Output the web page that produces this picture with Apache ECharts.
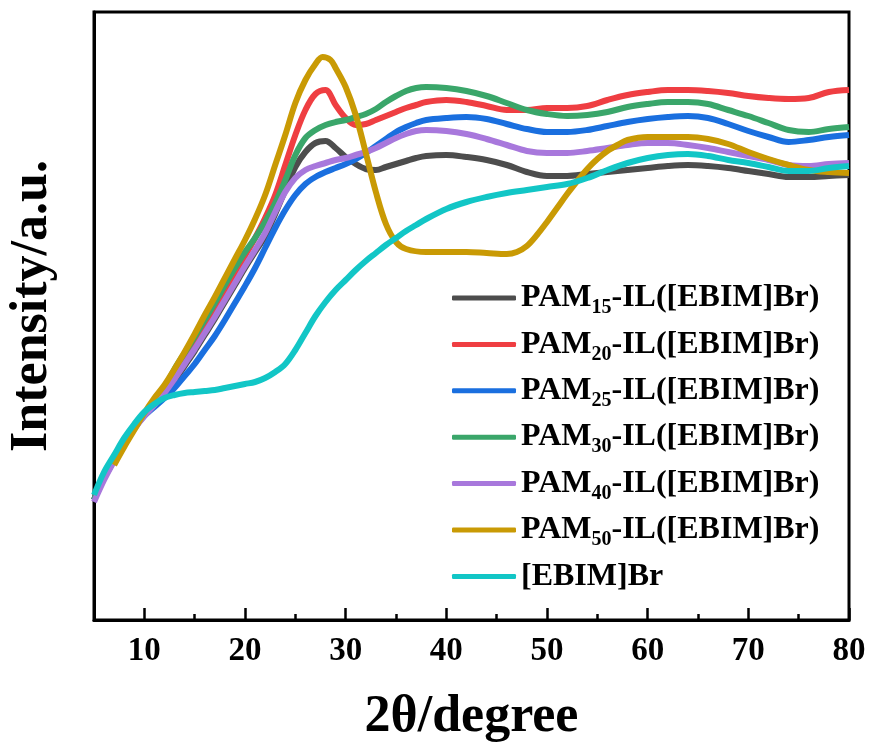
<!DOCTYPE html>
<html>
<head>
<meta charset="utf-8">
<script src="https://cdn.jsdelivr.net/npm/echarts@6/dist/echarts.min.js"></script>
<style>html,body{margin:0;padding:0;background:#fff}#c{width:870px;height:744px}</style>
</head>
<body>
<div id="c"></div>
<script>
// 2θ positions (degree)
var theta = [5,6,7,8,9,10,11,12,13,14,15,16,17,18,19,20,21,22,23,24,25,26,27,28,29,30,31,32,33,34,35,36,37,38,40,42,44,46,48,50,52,54,56,58,60,62,64,66,68,70,72,74,76,78,80];
var thetaGold = [7,8,9,10,11,12,13,14,15,16,17,18,19,20,21,22,23,24,25,26,27,27.7,28.5,29,30,31,32,33,34,35,36,38,40,42,44,46,47,48,49,50,51,52,53,54,55,56,57,58,60,62,64,66,68,70,72,74,76,78,80];

// Intensity (a.u.)
var pam15 = [120,142,160,177,192,205,215,225,239,254,269,285,301,318,335,352,368,384,406,430,453,468,477,479,472,463,456,451,450,453,456,459,462,464,465,463,460,455,448,444,444,446,448,450,452,454,455,454,452,449,446,443,443,444,445];
var pam20 = [120,142,160,177,192,205,215,228,242,259,276,293,310,328,346,364,382,402,425,455,485,510,526,530,515,502,495,496,500,504,508,512,515,518,520,518,514,510,510,512,512,514,520,525,528,530,530,529,527,524,522,521,522,528,530];
var pam25 = [120,142,160,177,192,204,213,222,232,244,256,270,284,300,317,334,352,372,392,410,425,436,443,448,452,456,461,467,474,481,488,493,497,500,502,503,501,496,491,488,488,490,494,498,501,503,504,502,496,489,483,478,480,483,485];
var pam30 = [120,142,160,177,192,206,218,232,251,267,283,300,317,335,352,368,382,398,417,440,465,482,490,495,498,500,503,506,511,518,524,529,532,533,532,529,524,517,510,506,504,505,508,513,516,518,518,516,510,504,497,490,488,491,493];
var pam40 = [118,140,159,176,191,204,215,227,241,256,271,287,303,320,337,354,370,387,408,428,442,450,454,457,460,462,465,468,472,477,482,486,489,490,489,486,481,475,469,467,467,469,472,475,477,477,475,472,468,464,460,455,454,456,457];
var pam50 = [155,173,190,207,222,235,251,268,286,305,323,342,361,380,401,425,455,485,517,540,556,563,560,552,533,505,467,428,396,378,371,368,368,368,367,366,368,374,385,398,412,426,439,451,461,469,475,480,483,483,483,481,476,468,461,455,450,448,447];
var ebim = [125,148,165,182,196,208,216,222,225,227,228,229,230,232,234,236,238,242,248,256,270,287,304,318,330,340,350,359,367,375,382,389,395,401,411,418,423,427,430,433,436,442,450,457,462,465,466,464,460,457,453,449,449,452,454];

var names = ['PAM15','PAM20','PAM25','PAM30','PAM40','PAM50','EBIM'];
var labels = ['{n|PAM}{s|15}{n|-IL([EBIM]Br)}','{n|PAM}{s|20}{n|-IL([EBIM]Br)}','{n|PAM}{s|25}{n|-IL([EBIM]Br)}','{n|PAM}{s|30}{n|-IL([EBIM]Br)}','{n|PAM}{s|40}{n|-IL([EBIM]Br)}','{n|PAM}{s|50}{n|-IL([EBIM]Br)}','{n|[EBIM]Br}'];
var colors = ['#4d4d4d','#ef3e42','#1a6fdf','#3aa66a','#a878dc','#c99a04','#12c6c6'];
var xTicks = [10,20,30,40,50,60,70,80];
var xMinorTicks = [15,25,35,45,55,65,75];

function pairs(xs, ys){ return xs.map(function(x,i){ return [x, ys[i]]; }); }
var seriesData = [pairs(theta,pam15),pairs(theta,pam20),pairs(theta,pam25),pairs(theta,pam30),pairs(theta,pam40),pairs(thetaGold,pam50),pairs(theta,ebim)];

var FONT = '"Liberation Serif", "Times New Roman", serif';
var chart = echarts.init(document.getElementById('c'), null, {renderer:'canvas'});
var labelMap = {};
names.forEach(function(n,i){ labelMap[n] = labels[i]; });

chart.setOption({
  animation: false,
  backgroundColor: '#fff',
  grid: {left: 94, right: 21, top: 12, bottom: 124, show: true, borderColor: '#000', borderWidth: 3, backgroundColor: 'transparent', outerBoundsMode: 'none', containLabel: false},
  xAxis: [{
    type: 'value', min: 5, max: 80,
    axisLine: {show: true, lineStyle: {color: '#000', width: 3}},
    axisTick: {show: true, inside: true, length: 12, customValues: xTicks, lineStyle: {color: '#000', width: 2.5}},
    axisLabel: {show: true, customValues: xTicks, margin: 15, color: '#000', fontSize: 33, fontWeight: 'bold', fontFamily: FONT},
    splitLine: {show: false},
    name: '2θ/degree', nameLocation: 'middle', nameGap: 72,
    nameTextStyle: {color: '#000', fontSize: 52, fontWeight: 'bold', fontFamily: FONT}
  },{
    type: 'value', min: 5, max: 80, position: 'bottom',
    axisLine: {show: false},
    axisTick: {show: true, inside: true, length: 6, customValues: xMinorTicks, lineStyle: {color: '#000', width: 2.5}},
    axisLabel: {show: false}, splitLine: {show: false}
  }],
  yAxis: {
    type: 'value', min: 0, max: 608,
    axisLine: {show: true, lineStyle: {color: '#000', width: 3}},
    axisTick: {show: false}, axisLabel: {show: false}, splitLine: {show: false}
  },
  graphic: [{
    type: 'text', x: 33, y: 306, rotation: Math.PI / 2,
    style: {text: 'Intensity/a.u.', fill: '#000', font: 'bold 52px "Liberation Serif", "Times New Roman", serif', textAlign: 'center', textVerticalAlign: 'middle'}
  }],
  legend: {
    orient: 'vertical', left: 452, top: 278, padding: 0, itemWidth: 64, itemHeight: 5, itemGap: 6.4,
    icon: 'roundRect',
    data: names,
    formatter: function(n){ return labelMap[n]; },
    textStyle: {
      lineHeight: 40,
      rich: {
        n: {fontSize: 32, fontWeight: 'bold', fontFamily: FONT, color: '#000', lineHeight: 40},
        s: {fontSize: 20, fontWeight: 'bold', fontFamily: FONT, color: '#000', lineHeight: 20, verticalAlign: 'bottom'}
      }
    }
  },
  series: names.map(function(n,i){
    return {name: n, type: 'line', data: seriesData[i], showSymbol: false, symbol: 'none', smooth: 0.35,
      lineStyle: {color: colors[i], width: 6}, itemStyle: {color: colors[i]}};
  })
});
</script>
</body>
</html>
